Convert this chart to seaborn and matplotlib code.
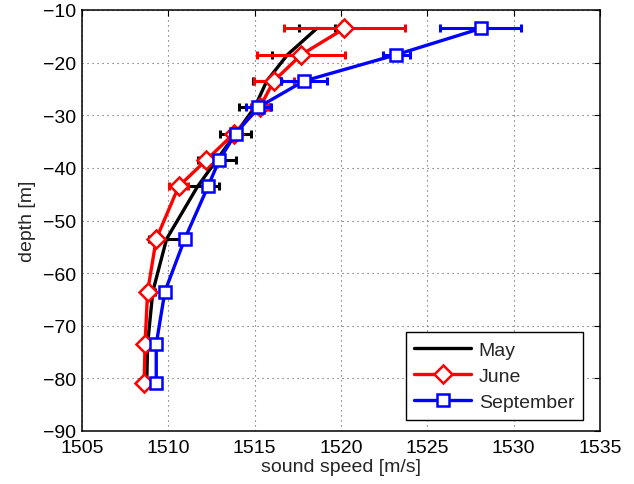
import matplotlib
matplotlib.use("Agg")
import matplotlib.pyplot as plt
import pandas as pd
import seaborn as sns

# Bin-centre depths of the profiles (m)
depth = [-13.5, -18.5, -23.5, -28.5, -33.5, -38.5, -43.5, -53.5, -63.5, -73.5, -80.8]

# Mean sound speed (m/s) and spread per depth bin
may_speed = [1518.6, 1516.9, 1515.7, 1515.0, 1513.9, 1512.8, 1511.7, 1509.9, 1509.1, 1508.8, 1508.75]
may_err = [1.05, 0.9, 0.8, 0.9, 0.9, 1.1, 1.25, 1.0, 0.15, 0.0, 0.0]

june_speed = [1520.2, 1517.7, 1516.1, 1515.3, 1513.8, 1512.2, 1510.6, 1509.3, 1508.8, 1508.65, 1508.6]
june_err = [3.5, 2.55, 1.15, 0.5, 0.3, 0.3, 0.55, 0.1, 0.1, 0.05, 0.05]

sept_speed = [1528.1, 1523.2, 1517.85, 1515.2, 1513.9, 1512.95, 1512.3, 1510.95, 1509.8, 1509.3, 1509.3]
sept_err = [2.35, 0.77, 1.33, 0.73, 0.3, 0.15, 0.1, 0.1, 0.05, 0.05, 0.05]

x_ticks = [1505, 1510, 1515, 1520, 1525, 1530, 1535]
y_ticks = [-90, -80, -70, -60, -50, -40, -30, -20, -10]

sns.set_theme(style="white")
plt.rcParams["font.family"] = ["Liberation Sans", "DejaVu Sans"]
plt.rcParams["axes.unicode_minus"] = True

fig = plt.figure(figsize=(6.34, 4.85), dpi=100)
ax = fig.add_axes([82 / 634, 1 - 432 / 485, 518 / 634, 421 / 485])

series = [
    ("May", may_speed, may_err, "black", None, 0),
    ("June", june_speed, june_err, "red", "D", 9),
    ("September", sept_speed, sept_err, "blue", "s", 8),
]

for z, (name, speed, err, color, marker, ms) in enumerate(series):
    ax.errorbar(speed, depth, xerr=err, fmt="none", ecolor=color,
                elinewidth=2.2, capsize=2.8, capthick=2.2, zorder=3 + 2 * z)
    df = pd.DataFrame({"speed": speed, "depth": depth})
    kw = dict(color=color, linewidth=2.4, label=name, ax=ax, zorder=4 + 2 * z)
    if marker is not None:
        kw.update(marker=marker, markersize=ms, markerfacecolor="white",
                  markeredgecolor=color, markeredgewidth=1.8)
    sns.lineplot(data=df, x="speed", y="depth", sort=False, estimator=None, **kw)

ax.set_xlim(1505, 1535)
ax.set_ylim(-90, -10)
ax.set_xticks(x_ticks)
ax.set_yticks(y_ticks)
ax.set_xlabel("sound speed [m/s]", fontsize=14, labelpad=1)
ax.set_ylabel("depth [m]", fontsize=14, labelpad=5)

ax.grid(True, linestyle=(0, (1, 3.5)), color="0.35", linewidth=0.8)
ax.set_axisbelow(True)
ax.tick_params(direction="in", length=4, width=0.8, top=True, right=True,
               labelsize=14, colors="black")
ax.tick_params(axis="x", pad=6)
ax.tick_params(axis="y", pad=4)
for s in ax.spines.values():
    s.set_visible(True)
    s.set_color("black")
    s.set_linewidth(1.1)

leg = ax.legend(loc="lower right", bbox_to_anchor=((583 - 82) / 518, (432 - 421) / 421),
                borderaxespad=0, frameon=True, fancybox=False, framealpha=1,
                edgecolor="black", fontsize=14, handlelength=2.9,
                handletextpad=0.4, labelspacing=0.45, borderpad=0.45)
leg.get_frame().set_linewidth(1.0)

fig.savefig("out.png", dpi=100)
